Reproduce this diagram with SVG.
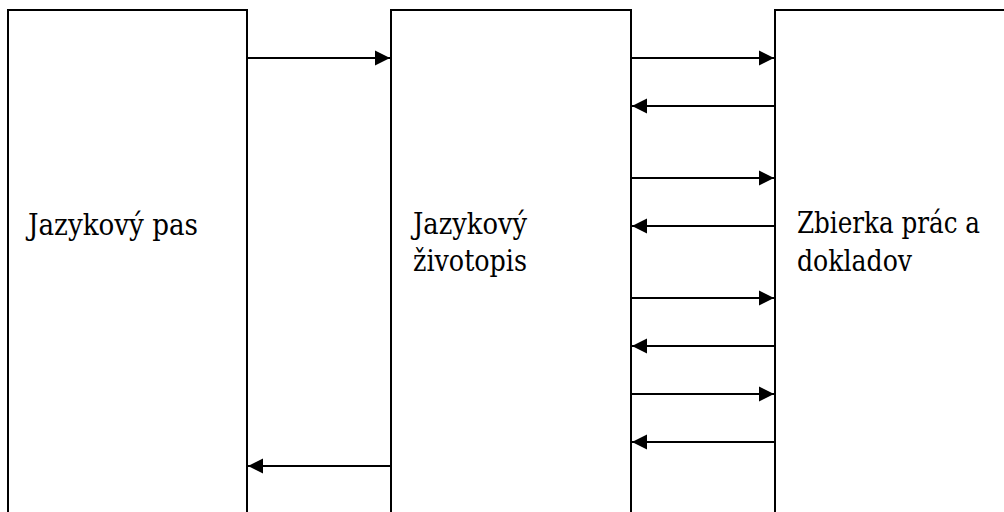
<svg xmlns="http://www.w3.org/2000/svg" width="1004" height="512" viewBox="0 0 1004 512">
<style>
.box{fill:#fff;stroke:#000;stroke-width:2}
.lbl{font-family:'DejaVu Serif Condensed','DejaVu Serif',serif;font-stretch:condensed;font-size:29px;fill:#000}
.con line{stroke:#000;stroke-width:2;marker-end:url(#ah)}
</style>
<defs>
<marker id="ah" markerUnits="userSpaceOnUse" markerWidth="16" markerHeight="16" viewBox="0 0 15 16" refX="15" refY="8" orient="auto">
<path d="M0,0.5 L15,8 L0,15.5 Z" fill="#000"/>
</marker>
</defs>
<rect width="1004" height="512" fill="#fff"/>
<g id="pas"><path class="box" d="M8,513 V10 H247 V513"/><text class="lbl" x="28" y="235" textLength="170" lengthAdjust="spacingAndGlyphs">Jazykový pas</text></g>
<g id="zivotopis"><path class="box" d="M391,513 V10 H631 V513"/><text class="lbl" x="413" y="234" textLength="114" lengthAdjust="spacingAndGlyphs">Jazykový</text><text class="lbl" x="413" y="271" textLength="114" lengthAdjust="spacingAndGlyphs">životopis</text></g>
<g id="zbierka"><path class="box" d="M775,513 V10 H1005"/><text class="lbl" x="797" y="233" textLength="183" lengthAdjust="spacingAndGlyphs">Zbierka prác a</text><text class="lbl" x="797" y="271" textLength="115" lengthAdjust="spacingAndGlyphs">dokladov</text></g>
<g class="con" id="connectors">
<line x1="247" y1="58" x2="390" y2="58"/>
<line x1="391" y1="466" x2="248" y2="466"/>
<line x1="631" y1="58" x2="774" y2="58"/>
<line x1="775" y1="106" x2="632" y2="106"/>
<line x1="631" y1="178" x2="774" y2="178"/>
<line x1="775" y1="226" x2="632" y2="226"/>
<line x1="631" y1="298" x2="774" y2="298"/>
<line x1="775" y1="346" x2="632" y2="346"/>
<line x1="631" y1="394" x2="774" y2="394"/>
<line x1="775" y1="442" x2="632" y2="442"/>
</g>
</svg>
